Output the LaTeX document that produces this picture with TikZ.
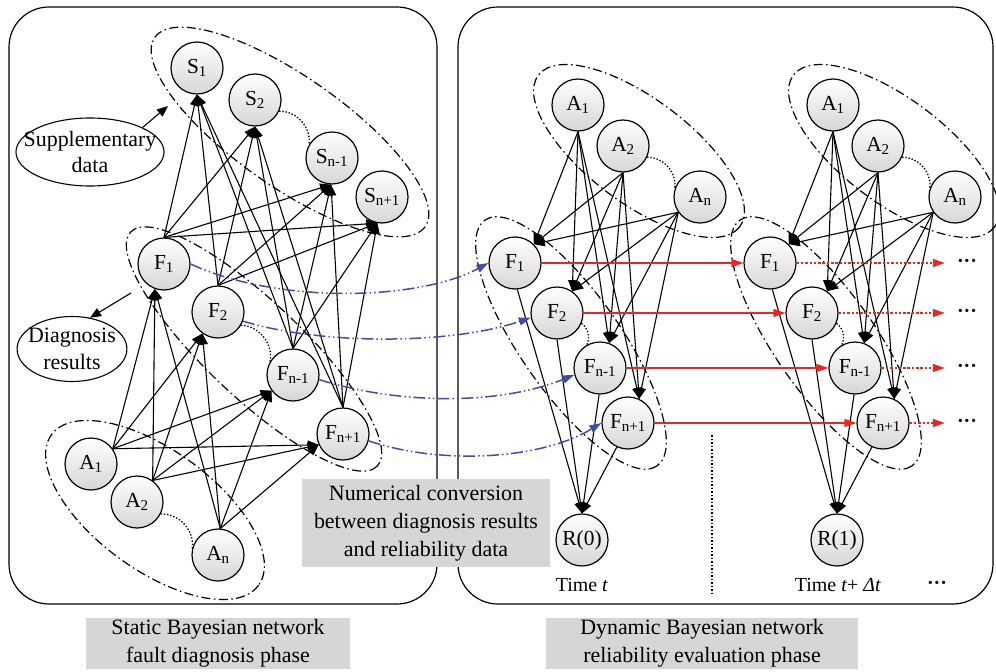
\documentclass[tikz,border=0pt]{standalone}
\usepackage{fontspec}
\setmainfont{Liberation Serif}
\usetikzlibrary{arrows.meta,shapes.geometric}
\definecolor{convblue}{RGB}{66,76,168}
\definecolor{transred}{RGB}{232,40,32}
\definecolor{boxgray}{RGB}{214,214,214}

\begin{document}
\begin{tikzpicture}[x=1bp,y=-1bp,
  nd/.style={circle,draw=black,line width=1.2pt,top color=white,bottom color=black!16,minimum size=52bp,inner sep=0pt,font=\fontsize{21.5}{24}\selectfont},
  ed/.style={line width=1.1pt,-{Triangle[length=11bp,width=9bp]}},
  grp/.style={line width=1.2pt,dash pattern=on 9bp off 3.5bp on 1.5bp off 3.5bp},
  link/.style={line width=1.3pt,dash pattern=on 1.4bp off 1.8bp},
  conv/.style={draw=convblue,line width=1.5pt,dash pattern=on 12bp off 3bp on 1.5bp off 3bp on 1.5bp off 3bp,-{Triangle[length=12bp,width=8bp]}},
  trans/.style={draw=transred,line width=1.4pt,-{Triangle[length=12bp,width=8bp]}},
  transdot/.style={trans,dash pattern=on 2.5bp off 1.8bp},
  panel/.style={line width=1.2pt,rounded corners=40bp},
  note/.style={ellipse,draw,line width=1.1pt,align=center,inner ysep=0pt,font=\fontsize{22}{27}\selectfont},
  phasebox/.style={fill=boxgray,align=center,inner sep=0pt,font=\fontsize{22}{28}\selectfont}]
  \useasboundingbox (0,0) rectangle (996,672);
  % panels
  \draw[panel] (9,7) rectangle (437,604);
  \draw[panel] (458,7) rectangle (993,604);
  % groups, static network
  \draw[grp,rotate around={-35:(290,132)}] (290,132) ellipse [x radius=165,y radius=55];
  \draw[grp,rotate around={-43.5:(254,349)}] (254,349) ellipse [x radius=170,y radius=48];
  \draw[grp,rotate around={-36:(155,510)}] (155,510) ellipse [x radius=128,y radius=60];
  % groups, dynamic network
  \foreach \k/\dx in {0/0,1/255} {
    \draw[grp,rotate around={-37:(639+\dx,151)}] (639+\dx,151) ellipse [x radius=126,y radius=52];
    \draw[grp,rotate around={-55:(571+\dx,343)}] (571+\dx,343) ellipse [x radius=150,y radius=50];
  }
  % static network
  \node[nd] (s1) at (197,68) {S\textsubscript{1}};
  \node[nd] (s2) at (255,100) {S\textsubscript{2}};
  \node[nd] (sm) at (332,158) {S\textsubscript{n-1}};
  \node[nd] (sp) at (382,197) {S\textsubscript{n+1}};
  \node[nd] (f1) at (164,264) {F\textsubscript{1}};
  \node[nd] (f2) at (218,312) {F\textsubscript{2}};
  \node[nd] (fm) at (293,375) {F\textsubscript{n-1}};
  \node[nd] (fp) at (343,434) {F\textsubscript{n+1}};
  \node[nd] (a1) at (91,464) {A\textsubscript{1}};
  \node[nd] (a2) at (137,502) {A\textsubscript{2}};
  \node[nd] (an) at (218,555) {A\textsubscript{n}};
  \foreach \s/\sa in {a1/35,a2/54,an/85}
    \foreach \t/\ta in {f1/250,f2/234,fm/216,fp/204}
      \draw[ed] (\s.\sa) -- (\t.\ta);
  \foreach \s in {f1,f2,fm,fp}
    \foreach \t/\ta in {s1/270,s2/270,sm/268,sp/260}
      \draw[ed] (\s.north) -- (\t.\ta);
  \draw[link] (s2.-25) to[bend left=50] (sm.150);
  \draw[link] (f2.-30) to[bend left=50] (fm.150);
  \draw[link] (a2.-27) to[bend left=50] (an.165);
  % notes on the groups
  \node[note,inner xsep=-14bp,minimum height=68bp] (supp) at (90,152) {Supplementary\\data};
  \node[note,inner xsep=-5bp,minimum height=65bp] (diag) at (72,349) {Diagnosis\\results};
  \coordinate (sgrp) at (168,106);
  \coordinate (fgrp) at (131,293);
  \draw[ed] (supp.25) -- (sgrp);
  \draw[ed] (fgrp) -- (diag.60);
  % dynamic network, two time slices
  \foreach \k/\dx in {0/0,1/255} {
    \node[nd] (a1-\k) at (578+\dx,105) {A\textsubscript{1}};
    \node[nd] (a2-\k) at (623+\dx,146) {A\textsubscript{2}};
    \node[nd] (an-\k) at (700+\dx,197) {A\textsubscript{n}};
    \node[nd] (f1-\k) at (515+\dx,263) {F\textsubscript{1}};
    \node[nd] (f2-\k) at (557+\dx,313) {F\textsubscript{2}};
    \node[nd] (fm-\k) at (600+\dx,368) {F\textsubscript{n-1}};
    \node[nd] (fp-\k) at (628+\dx,423) {F\textsubscript{n+1}};
    \node[nd] (r-\k) at (582+\dx,540) {R(\k)};
    \foreach \s/\sa in {a1/270,a2/270,an/215}
      \foreach \t/\ta in {f1/45,f2/55,fm/70,fp/65}
        \draw[ed] (\s-\k.\sa) -- (\t-\k.\ta);
    \foreach \s/\sa in {f1/275,f2/270,fm/268,fp/245}
      \draw[ed] (\s-\k.\sa) -- (r-\k.north);
    \draw[link] (a2-\k.-25) to[bend left=50] (an-\k.162);
    \draw[link] (f2-\k.-23) to[bend left=40] (fm-\k.120);
  }
  % transitions between slices
  \foreach \f/\y in {f1/263,f2/313,fm/368,fp/423} {
    \draw[trans] (\f-0.east) -- (\f-1.west);
    \node[font=\bfseries\fontsize{20}{24}\selectfont,inner sep=0pt] (\f-more) at (967,\y) {···};
    \draw[transdot,shorten >=12bp] (\f-1.east) -- (\f-more.west);
  }
  % conversion of diagnosis results
  \draw[conv] (f1.east) .. controls (280,305) and (420,300) .. (f1-0.west);
  \draw[conv] (f2.-20) .. controls (320,345) and (450,345) .. (f2-0.190);
  \draw[conv] (fm.-10) .. controls (400,405) and (500,405) .. (fm-0.195);
  \draw[conv] (fp.-15) .. controls (440,465) and (540,460) .. (fp-0.west);
  % captions
  \node[phasebox,minimum width=248bp,minimum height=88bp] (numconv) at (426,523) {Numerical conversion\\between diagnosis results\\and reliability data};
  \node[font=\fontsize{20}{24}\selectfont] (time0) at (582,585) {Time \textit{t}};
  \node[font=\fontsize{20}{24}\selectfont] (time1) at (838,585) {Time \textit{t}+ \textit{Δt}};
  \node[font=\bfseries\fontsize{20}{24}\selectfont] (timemore) at (937,585) {···};
  \coordinate (sep-top) at (712,435);
  \coordinate (sep-bot) at (712,593);
  \draw[line width=1.6pt,dash pattern=on 1.5bp off 2bp] (sep-top) -- (sep-bot);
  \node[phasebox,minimum width=264bp,minimum height=51bp] (static) at (218,643) {Static Bayesian network\\fault diagnosis phase};
  \node[phasebox,minimum width=312bp,minimum height=51bp] (dynamic) at (702,643) {Dynamic Bayesian network\\reliability evaluation phase};
\end{tikzpicture}
\end{document}
